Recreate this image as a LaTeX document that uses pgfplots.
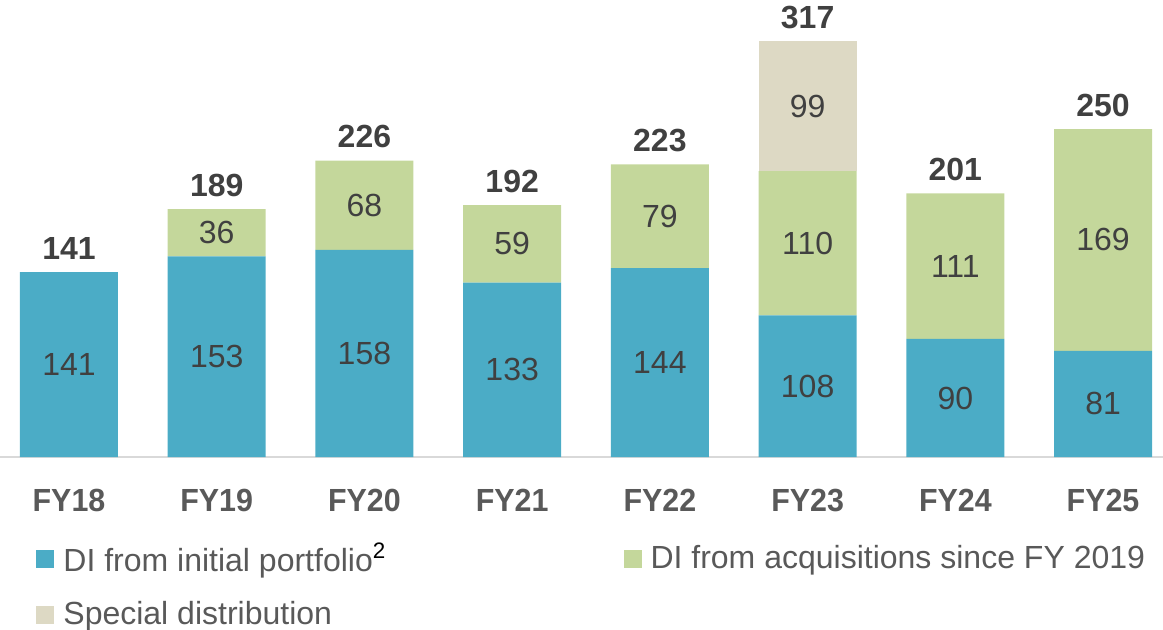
\documentclass[border=0pt]{standalone}
\usepackage{pgfplots}
\pgfplotsset{compat=1.18}
\usepackage{pgfplotstable}
\usepackage{fontspec}
\setmainfont{Liberation Sans}
\newfontfamily\narrowbold{Liberation Sans}[FakeStretch=0.95]
\definecolor{cblue}{HTML}{4BACC6}
\definecolor{cgreen}{HTML}{C4D79B}
\definecolor{cbeige}{HTML}{DDD9C4}
\definecolor{tdark}{HTML}{404040}
\definecolor{tgray}{HTML}{595959}
\definecolor{axgray}{HTML}{D9D9D9}

\pgfplotstableread{
x y lab
0 141 141
1 153 153
2 158 158
3 133 133
4 144 144
5 108 108
6 90 90
7 81 81
}\initialtab
\pgfplotstableread{
x y lab
0 0 {}
1 36 36
2 68 68
3 59 59
4 79 79
5 110 110
6 111 111
7 169 169
}\acqtab
\pgfplotstableread{
x y lab
0 0 {}
1 0 {}
2 0 {}
3 0 {}
4 0 {}
5 99 99
6 0 {}
7 0 {}
}\spectab
\pgfplotstableread{
x y lab
0 141 141
1 189 189
2 226 226
3 192 192
4 223 223
5 317 317
6 201 201
7 250 250
}\totaltab

\pgfplotsset{
  segstyle/.style={
    draw=none, fill=#1,
    legend image code/.code={\fill[#1] (0pt,-4.5pt) rectangle (9pt,4.5pt);},
    nodes near coords,
    point meta=explicit symbolic,
    every node near coord/.style={anchor=center,
      font=\fontsize{16}{16}\selectfont, text=tdark},
  },
  common/.style={
    at={(0,0)}, anchor=south west,
    x=73.85pt, y=0.656pt,
    xmin=-0.467, xmax=7.406, ymin=0, ymax=348.3,
    bar width=49pt, clip=false,
  }
}

\begin{document}
\begin{tikzpicture}
\useasboundingbox (0,-86pt) rectangle (581.4pt,228.5pt);
\begin{axis}[
  common,
  ybar stacked,
  axis y line=none,
  axis x line*=bottom,
  x axis line style={color=axgray, line width=1pt},
  major tick length=0pt,
  xtick={0,...,7},
  xticklabels={FY18,FY19,FY20,FY21,FY22,FY23,FY24,FY25},
  xticklabel style={font=\narrowbold\bfseries\fontsize{16}{16}\selectfont, text=tgray, yshift=-12.5pt},
  legend columns=2,
  legend style={draw=none, fill=none, at={(rel axis cs:0,0)}, anchor=north west,
    xshift=18pt, yshift=-42.8pt, inner sep=0pt, row sep=13.75pt,
    nodes={inner sep=0pt, text=tgray, font=\fontsize{16}{16}\selectfont},
    /tikz/every odd column/.style={column sep=4.5pt}},
  legend cell align=left,
]
\addplot[segstyle=cblue] table[x=x, y=y, meta=lab] {\initialtab};
\addlegendentry{\makebox[280pt][l]{DI from initial portfolio\textsuperscript{\color{black}2}}}
\addplot[segstyle=cgreen] table[x=x, y=y, meta=lab] {\acqtab};
\addlegendentry{DI from acquisitions since FY 2019}
\addplot[segstyle=cbeige] table[x=x, y=y, meta=lab] {\spectab};
\addlegendentry{Special distribution}
\end{axis}
\begin{axis}[
  common,
  ybar,
  hide axis,
  nodes near coords,
  point meta=explicit symbolic,
  every node near coord/.style={anchor=south, inner sep=0pt, yshift=6pt,
    font=\bfseries\fontsize{16}{16}\selectfont, text=tdark},
]
\addplot[draw=none, fill=none] table[x=x, y=y, meta=lab] {\totaltab};
\end{axis}
\end{tikzpicture}
\end{document}
